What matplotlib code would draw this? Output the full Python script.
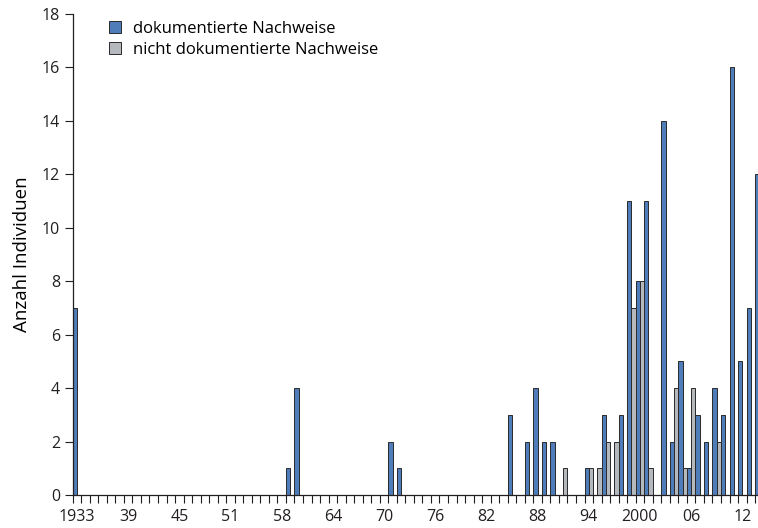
import numpy as np
import matplotlib.pyplot as plt
from matplotlib.ticker import FixedLocator, MultipleLocator

# categories 1933 ... 2013 (81 slots on the axis)
n_cat = 81
tick_pos = list(range(0, 79, 6))
tick_labels = ["1933", "39", "45", "51", "58", "64", "70", "76", "82",
               "88", "94", "2000", "06", "12"]

# index -> count
doc_idx = [0, 25, 26, 37, 38, 51, 53, 54, 55, 56, 60, 62, 64, 65, 66, 67,
           69, 70, 71, 72, 73, 74, 75, 76, 77, 78, 79, 80]
doc_val = [7, 1, 4, 2, 1, 3, 2, 4, 2, 2, 1, 3, 3, 11, 8, 11,
           14, 2, 5, 1, 3, 2, 4, 3, 16, 5, 7, 12]
undoc_idx = [57, 60, 61, 62, 63, 65, 66, 67, 70, 71, 72, 75]
undoc_val = [1, 1, 1, 2, 2, 7, 8, 1, 4, 1, 4, 2]

doc = np.zeros(n_cat)
doc[doc_idx] = doc_val
undoc = np.zeros(n_cat)
undoc[undoc_idx] = undoc_val

plt.rcParams.update({
    "font.family": ["Open Sans", "DejaVu Sans"],
    "font.size": 11.5,
    "axes.edgecolor": "#231f20",
    "xtick.color": "#231f20",
    "ytick.color": "#231f20",
})

blue = "#4f7dba"
grey = "#b5b9bd"
edge = "#2a2a2a"

fig = plt.figure(figsize=(7.58, 5.28), dpi=100)
ax = fig.add_axes([72.7 / 758, 1 - 495 / 528, (758 - 72.7) / 758, (495 - 14) / 528])

x = np.arange(n_cat)
ax.bar(x - 0.25, doc, width=0.5, color=blue, edgecolor=edge, linewidth=0.7,
       label="dokumentierte Nachweise")
ax.bar(x + 0.25, undoc, width=0.5, color=grey, edgecolor=edge, linewidth=0.7,
       label="nicht dokumentierte Nachweise")

ax.set_xlim(-0.5, -0.5 + (758 - 72.7) / 8.53)
ax.set_ylim(0, 18)
ax.yaxis.set_major_locator(MultipleLocator(2))

ax.xaxis.set_major_locator(FixedLocator(tick_pos))
ax.set_xticklabels(tick_labels)
ax.xaxis.set_minor_locator(FixedLocator(np.arange(-0.5, n_cat, 1)))
ax.tick_params(axis="x", which="major", length=0, pad=10)
ax.tick_params(axis="x", which="minor", length=6, width=0.8, direction="out")
ax.tick_params(axis="y", length=6, width=0.8, direction="out", pad=3)

for s in ["top", "right"]:
    ax.spines[s].set_visible(False)
ax.spines["left"].set_linewidth(0.9)
ax.spines["bottom"].set_linewidth(0.9)

ax.set_ylabel("Anzahl Individuen", fontsize=13.5, labelpad=8)

ax.legend(loc="upper left", bbox_to_anchor=(102 / 758, 1 - 14 / 528),
          bbox_transform=fig.transFigure, frameon=False,
          handlelength=0.75, handleheight=0.75, handletextpad=0.7,
          labelspacing=0.3, borderaxespad=0, fontsize=12)

fig.savefig("out.png", dpi=100)
